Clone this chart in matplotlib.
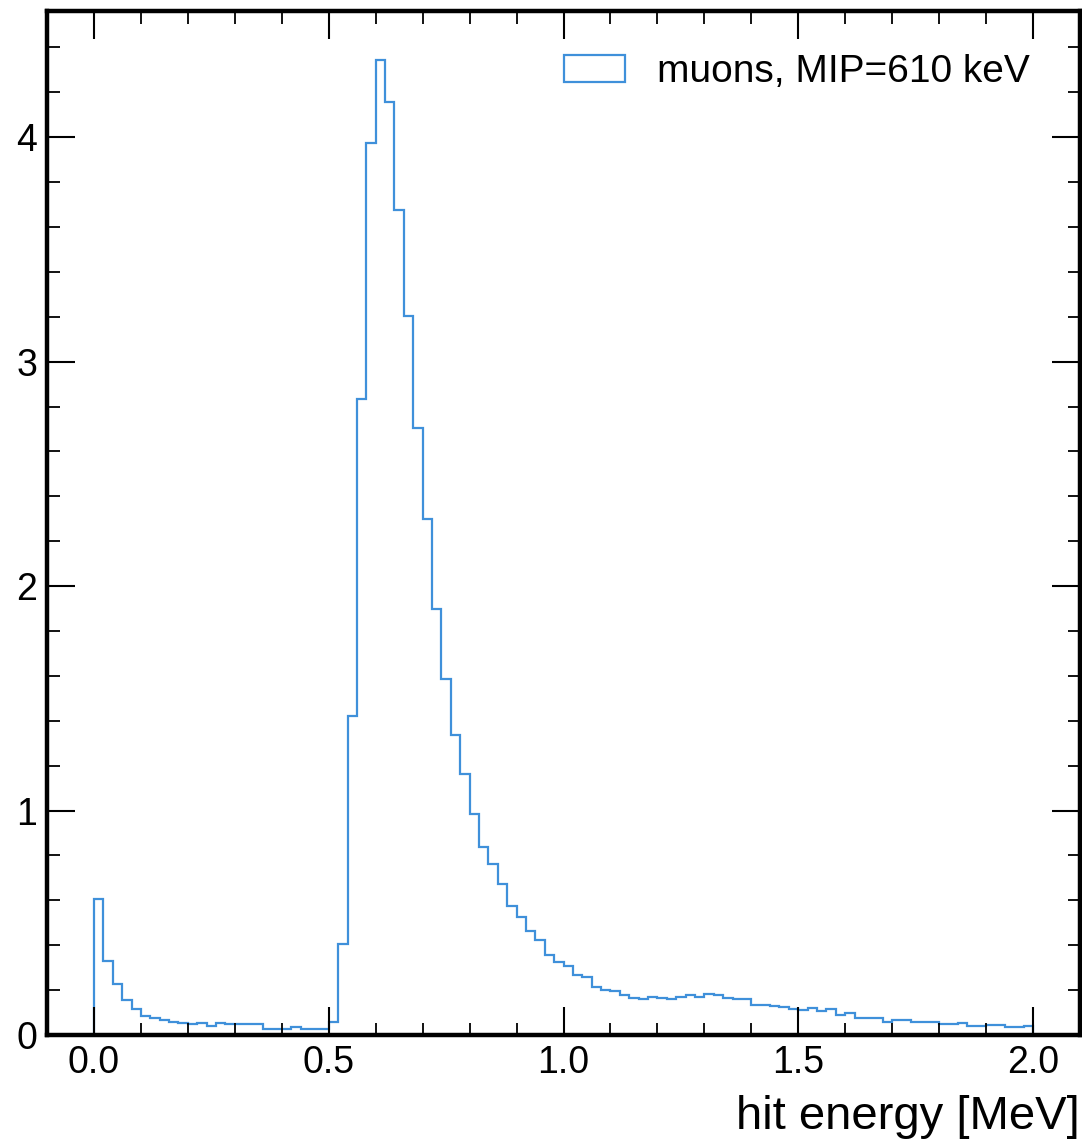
# muon hit energy spectrum, step histogram in HEP style
import numpy as np
import matplotlib
matplotlib.use("Agg")
import matplotlib.pyplot as plt
from matplotlib.patches import Patch
from matplotlib.ticker import MultipleLocator

plt.rcParams['font.family'] = ['Liberation Sans', 'DejaVu Sans']

# 100 bins from 0 to 2 MeV
bin_edges = np.linspace(0.0, 2.0, 101)
counts = [
    # 0.00 - 0.52
    0.605, 0.330, 0.226, 0.156, 0.114, 0.085, 0.077, 0.067, 0.059, 0.052,
    0.049, 0.055, 0.041, 0.055, 0.049, 0.049, 0.049, 0.049, 0.028, 0.028,
    0.028, 0.037, 0.028, 0.028, 0.028, 0.060,
    # 0.52 - 1.02
    0.404, 1.420, 2.835, 3.975, 4.345, 4.156, 3.675, 3.204, 2.705, 2.298,
    1.899, 1.585, 1.337, 1.164, 0.986, 0.839, 0.762, 0.673, 0.576, 0.524,
    0.463, 0.423, 0.356, 0.327, 0.309,
    # 1.02 - 1.46
    0.266, 0.257, 0.215, 0.202, 0.196, 0.178, 0.166, 0.159, 0.171, 0.166,
    0.159, 0.171, 0.177, 0.171, 0.183, 0.177, 0.166, 0.159, 0.159, 0.135,
    0.134, 0.129,
    # 1.46 - 2.00
    0.123, 0.114, 0.111, 0.119, 0.107, 0.114, 0.089, 0.096, 0.077, 0.077,
    0.077, 0.059, 0.065, 0.065, 0.058, 0.058, 0.058, 0.048, 0.048, 0.055,
    0.042, 0.042, 0.045, 0.045, 0.036, 0.036, 0.040,
]
label = 'muons, MIP=610 keV'
color = '#3f90da'

fig = plt.figure(figsize=(10.82, 11.40), dpi=100)
ax = fig.add_axes([47 / 1082, 105 / 1140, 1033 / 1082, 1024 / 1140])

ax.stairs(counts, bin_edges, color=color, linewidth=1.6)
ax.margins(x=0.05, y=0.05)

ax.xaxis.set_major_locator(MultipleLocator(0.5))
ax.xaxis.set_minor_locator(MultipleLocator(0.1))
ax.yaxis.set_major_locator(MultipleLocator(1))
ax.yaxis.set_minor_locator(MultipleLocator(0.2))
ax.tick_params(which='both', direction='in', top=True, right=True,
               labelsize=27, pad=7)
ax.tick_params(which='major', length=20, width=1.5)
ax.tick_params(which='minor', length=9, width=1.3)
for sp in ax.spines.values():
    sp.set_linewidth(3.2)

ax.set_xlabel('hit energy [MeV]', loc='right', fontsize=34, labelpad=10)

handle = Patch(facecolor='none', edgecolor=color, linewidth=1.6)
ax.legend([handle], [label], loc='upper right', frameon=False, fontsize=28,
          handlelength=1.57, handleheight=0.72, handletextpad=0.82,
          bbox_to_anchor=(0.985, 0.992))

fig.savefig('out.png', dpi=100)
